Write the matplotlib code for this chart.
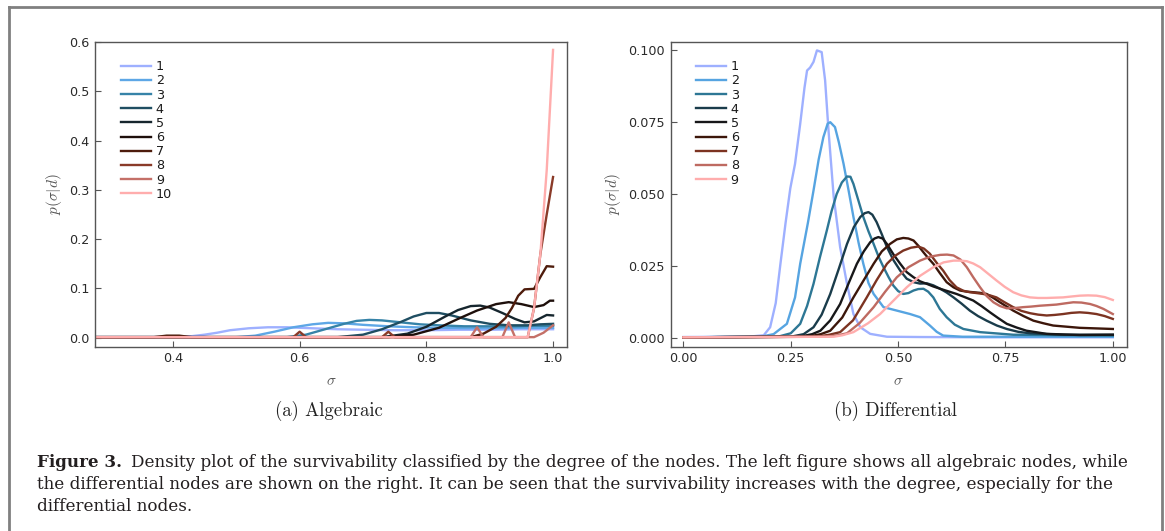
import matplotlib
matplotlib.use("Agg")
import matplotlib.pyplot as plt
from matplotlib.colors import LinearSegmentedColormap
from matplotlib.lines import Line2D

plt.rcParams['mathtext.fontset'] = 'cm'

# ---------------- data: (a) Algebraic ----------------
alg_s1 = [0.28, 0.40, 0.43, 0.45, 0.47, 0.49, 0.52, 0.55, 0.58, 0.62, 0.66, 0.70, 0.75, 0.80, 0.85, 0.90, 0.95, 1.0]
alg_p1 = [0.001, 0.001, 0.003, 0.006, 0.010, 0.015, 0.019, 0.021, 0.021, 0.019, 0.017, 0.016, 0.015, 0.015, 0.016, 0.016, 0.017, 0.017]
alg_s2 = [0.28, 0.50, 0.53, 0.56, 0.59, 0.62, 0.645, 0.67, 0.70, 0.74, 0.78, 0.82, 0.86, 0.90, 0.95, 1.0]
alg_p2 = [0.001, 0.001, 0.004, 0.012, 0.021, 0.027, 0.030, 0.029, 0.026, 0.023, 0.021, 0.020, 0.019, 0.019, 0.020, 0.020]
alg_s3 = [0.28, 0.58, 0.61, 0.64, 0.67, 0.69, 0.71, 0.73, 0.76, 0.79, 0.82, 0.86, 0.90, 0.94, 0.97, 1.0]
alg_p3 = [0.001, 0.001, 0.006, 0.017, 0.028, 0.034, 0.036, 0.035, 0.031, 0.027, 0.025, 0.023, 0.023, 0.023, 0.024, 0.024]
alg_s4 = [0.28, 0.66, 0.70, 0.73, 0.76, 0.78, 0.80, 0.82, 0.84, 0.87, 0.90, 0.93, 0.96, 0.98, 1.0]
alg_p4 = [0.001, 0.001, 0.006, 0.017, 0.032, 0.043, 0.050, 0.050, 0.045, 0.035, 0.028, 0.025, 0.025, 0.027, 0.028]
alg_s5 = [0.28, 0.73, 0.77, 0.80, 0.83, 0.85, 0.87, 0.885, 0.90, 0.92, 0.94, 0.955, 0.97, 0.99, 1.0]
alg_p5 = [0.001, 0.001, 0.008, 0.022, 0.043, 0.056, 0.064, 0.065, 0.061, 0.050, 0.038, 0.031, 0.033, 0.046, 0.045]
alg_s6 = [0.28, 0.74, 0.78, 0.82, 0.85, 0.88, 0.91, 0.93, 0.95, 0.97, 0.985, 0.995, 1.0]
alg_p6 = [0.001, 0.001, 0.006, 0.020, 0.038, 0.055, 0.068, 0.072, 0.068, 0.062, 0.066, 0.075, 0.075]
alg_s7 = [0.28, 0.37, 0.39, 0.41, 0.43, 0.87, 0.89, 0.91, 0.925, 0.935, 0.945, 0.955, 0.97, 0.98, 0.99, 1.0]
alg_p7 = [0.001, 0.001, 0.004, 0.004, 0.001, 0.001, 0.008, 0.022, 0.040, 0.060, 0.085, 0.098, 0.099, 0.123, 0.145, 0.144]
alg_s8 = [0.28, 0.59, 0.60, 0.61, 0.73, 0.74, 0.75, 0.96, 0.97, 0.98, 0.99, 1.0]
alg_p8 = [0.001, 0.001, 0.012, 0.001, 0.001, 0.012, 0.001, 0.001, 0.060, 0.170, 0.250, 0.326]
alg_s9 = [0.28, 0.87, 0.88, 0.89, 0.92, 0.93, 0.94, 0.97, 0.985, 1.0]
alg_p9 = [0.001, 0.001, 0.021, 0.001, 0.001, 0.031, 0.001, 0.001, 0.010, 0.025]
alg_s10 = [0.28, 0.96, 0.97, 0.98, 0.99, 1.0]
alg_p10 = [0.001, 0.001, 0.060, 0.170, 0.340, 0.584]

# ---------------- data: (b) Differential ----------------
dif_s1 = [0.0, 0.15, 0.187, 0.202, 0.215, 0.226, 0.238, 0.249, 0.260, 0.272, 0.282, 0.288, 0.295, 0.303, 0.311, 0.322, 0.330, 0.338, 0.350, 0.365, 0.381, 0.396, 0.412, 0.435, 0.474, 0.55, 0.70, 1.0]
dif_p1 = [0.0002, 0.0003, 0.0008, 0.0036, 0.012, 0.0257, 0.040, 0.052, 0.0605, 0.0744, 0.087, 0.093, 0.094, 0.096, 0.100, 0.0994, 0.0896, 0.072, 0.049, 0.0315, 0.0187, 0.0082, 0.0036, 0.0013, 0.0003, 0.0002, 0.0001, 0.0001]
dif_s2 = [0.0, 0.18, 0.21, 0.241, 0.26, 0.272, 0.29, 0.303, 0.315, 0.326, 0.336, 0.342, 0.353, 0.362, 0.373, 0.385, 0.396, 0.408, 0.419, 0.431, 0.443, 0.466, 0.497, 0.528, 0.551, 0.574, 0.59, 0.605, 0.65, 1.0]
dif_p2 = [0.0001, 0.0003, 0.0012, 0.0048, 0.014, 0.0257, 0.040, 0.0512, 0.062, 0.0698, 0.0745, 0.075, 0.0733, 0.068, 0.0605, 0.051, 0.042, 0.033, 0.0257, 0.019, 0.0152, 0.0106, 0.0094, 0.0082, 0.0071, 0.0042, 0.002, 0.0007, 0.0003, 0.0003]
dif_s3 = [0.0, 0.22, 0.25, 0.272, 0.288, 0.303, 0.318, 0.334, 0.345, 0.357, 0.369, 0.381, 0.389, 0.396, 0.407, 0.419, 0.431, 0.443, 0.455, 0.466, 0.478, 0.489, 0.500, 0.512, 0.524, 0.536, 0.547, 0.559, 0.570, 0.582, 0.597, 0.613, 0.632, 0.652, 0.691, 0.768, 1.0]
dif_p3 = [0.0001, 0.0003, 0.0015, 0.0048, 0.011, 0.0187, 0.028, 0.0373, 0.044, 0.050, 0.054, 0.0561, 0.0560, 0.0535, 0.048, 0.042, 0.037, 0.0326, 0.028, 0.0245, 0.021, 0.0181, 0.0162, 0.0152, 0.0155, 0.0164, 0.0169, 0.017, 0.0160, 0.014, 0.010, 0.0071, 0.0045, 0.003, 0.0019, 0.001, 0.0007]
dif_s4 = [0.0, 0.25, 0.28, 0.303, 0.322, 0.342, 0.362, 0.381, 0.397, 0.412, 0.422, 0.431, 0.440, 0.450, 0.462, 0.474, 0.489, 0.505, 0.520, 0.536, 0.551, 0.567, 0.582, 0.598, 0.613, 0.629, 0.648, 0.667, 0.686, 0.706, 0.730, 0.753, 0.780, 0.807, 0.884, 1.0]
dif_p4 = [0.0001, 0.0003, 0.0012, 0.0036, 0.008, 0.0152, 0.024, 0.0326, 0.0385, 0.042, 0.0433, 0.0437, 0.0428, 0.0402, 0.036, 0.0315, 0.027, 0.0233, 0.0205, 0.0193, 0.0188, 0.0189, 0.0182, 0.017, 0.0157, 0.014, 0.0118, 0.0094, 0.0075, 0.0059, 0.0042, 0.003, 0.002, 0.0015, 0.001, 0.001]
dif_s5 = [0.0, 0.27, 0.30, 0.319, 0.342, 0.365, 0.385, 0.404, 0.42, 0.435, 0.445, 0.454, 0.464, 0.474, 0.489, 0.505, 0.520, 0.536, 0.551, 0.567, 0.582, 0.598, 0.617, 0.636, 0.655, 0.675, 0.694, 0.714, 0.733, 0.753, 0.776, 0.799, 0.846, 0.923, 1.0]
dif_p5 = [0.0001, 0.0003, 0.0012, 0.0024, 0.006, 0.0117, 0.019, 0.0257, 0.030, 0.0332, 0.0345, 0.035, 0.0345, 0.0326, 0.029, 0.0257, 0.0228, 0.021, 0.0196, 0.0187, 0.0178, 0.017, 0.0161, 0.0152, 0.0141, 0.0129, 0.011, 0.0088, 0.0068, 0.0048, 0.0035, 0.0024, 0.0013, 0.0009, 0.001]
dif_s6 = [0.0, 0.29, 0.32, 0.342, 0.37, 0.396, 0.42, 0.443, 0.462, 0.481, 0.497, 0.512, 0.524, 0.536, 0.547, 0.559, 0.570, 0.582, 0.597, 0.613, 0.629, 0.644, 0.660, 0.675, 0.690, 0.706, 0.722, 0.737, 0.753, 0.768, 0.792, 0.815, 0.838, 0.861, 0.923, 1.0]
dif_p6 = [0.0001, 0.0003, 0.0012, 0.0024, 0.007, 0.014, 0.020, 0.0257, 0.030, 0.0326, 0.0342, 0.0347, 0.0345, 0.0338, 0.032, 0.0297, 0.0277, 0.0257, 0.0225, 0.0193, 0.0175, 0.0164, 0.016, 0.0158, 0.0156, 0.0152, 0.0138, 0.0123, 0.0108, 0.0094, 0.0075, 0.0059, 0.005, 0.0042, 0.0034, 0.003]
dif_s7 = [0.0, 0.31, 0.34, 0.365, 0.395, 0.427, 0.45, 0.474, 0.493, 0.512, 0.530, 0.547, 0.560, 0.574, 0.59, 0.605, 0.62, 0.636, 0.652, 0.667, 0.683, 0.698, 0.714, 0.729, 0.748, 0.768, 0.787, 0.807, 0.826, 0.846, 0.865, 0.884, 0.903, 0.923, 0.942, 0.962, 0.981, 1.0]
dif_p7 = [0.0001, 0.0003, 0.001, 0.0019, 0.006, 0.014, 0.020, 0.0257, 0.0285, 0.0303, 0.0313, 0.0317, 0.031, 0.0292, 0.026, 0.0233, 0.020, 0.0175, 0.0163, 0.0158, 0.0155, 0.0152, 0.0147, 0.014, 0.0123, 0.0106, 0.0093, 0.0085, 0.008, 0.0077, 0.0079, 0.0082, 0.0086, 0.0088, 0.0086, 0.0082, 0.0075, 0.0065]
dif_s8 = [0.0, 0.33, 0.36, 0.381, 0.41, 0.443, 0.47, 0.497, 0.524, 0.551, 0.575, 0.598, 0.614, 0.629, 0.645, 0.660, 0.675, 0.691, 0.706, 0.722, 0.737, 0.753, 0.772, 0.791, 0.810, 0.830, 0.85, 0.869, 0.888, 0.908, 0.927, 0.947, 0.962, 0.978, 1.0]
dif_p8 = [0.0001, 0.0003, 0.0008, 0.0015, 0.005, 0.0106, 0.016, 0.021, 0.0245, 0.0268, 0.0282, 0.0288, 0.0289, 0.0286, 0.0272, 0.0245, 0.021, 0.0175, 0.0145, 0.0123, 0.011, 0.0102, 0.0103, 0.0106, 0.0108, 0.0111, 0.0113, 0.0115, 0.0119, 0.0123, 0.0122, 0.0117, 0.011, 0.010, 0.0082]
dif_s9 = [0.0, 0.35, 0.37, 0.396, 0.43, 0.458, 0.49, 0.520, 0.551, 0.582, 0.606, 0.629, 0.645, 0.660, 0.675, 0.691, 0.710, 0.729, 0.748, 0.768, 0.787, 0.807, 0.826, 0.846, 0.865, 0.884, 0.903, 0.923, 0.942, 0.962, 0.981, 1.0]
dif_p9 = [0.0001, 0.0003, 0.0008, 0.0019, 0.005, 0.0082, 0.013, 0.0175, 0.0215, 0.0245, 0.0262, 0.0268, 0.0268, 0.0266, 0.0258, 0.0245, 0.0222, 0.0199, 0.0177, 0.0158, 0.0147, 0.014, 0.0138, 0.0138, 0.0139, 0.014, 0.0143, 0.0146, 0.0147, 0.0146, 0.0141, 0.0131]

alg_labels = ['1', '2', '3', '4', '5', '6', '7', '8', '9', '10']
dif_labels = ['1', '2', '3', '4', '5', '6', '7', '8', '9']
alg_sigma = [alg_s1, alg_s2, alg_s3, alg_s4, alg_s5, alg_s6, alg_s7, alg_s8, alg_s9, alg_s10]
alg_dens = [alg_p1, alg_p2, alg_p3, alg_p4, alg_p5, alg_p6, alg_p7, alg_p8, alg_p9, alg_p10]
dif_sigma = [dif_s1, dif_s2, dif_s3, dif_s4, dif_s5, dif_s6, dif_s7, dif_s8, dif_s9]
dif_dens = [dif_p1, dif_p2, dif_p3, dif_p4, dif_p5, dif_p6, dif_p7, dif_p8, dif_p9]

alg_xticks = [0.4, 0.6, 0.8, 1.0]
alg_yticks = [0.0, 0.1, 0.2, 0.3, 0.4, 0.5, 0.6]
dif_xticks = [0.0, 0.25, 0.5, 0.75, 1.0]
dif_yticks = [0.0, 0.025, 0.05, 0.075, 0.1]

caption_bold = "Figure 3."
caption_lines = [
    "Density plot of the survivability classified by the degree of the nodes. The left figure shows all algebraic nodes, while",
    "the differential nodes are shown on the right. It can be seen that the survivability increases with the degree, especially for the",
    "differential nodes.",
]

# berlin-like colormap
berlin = LinearSegmentedColormap.from_list("berlin_like", [
    (0.00, "#9eb0ff"), (0.12, "#58a6e4"), (0.24, "#2f7c9c"), (0.36, "#1b4152"),
    (0.48, "#141a1e"), (0.56, "#1e0f0a"), (0.66, "#4a1a0a"), (0.78, "#8a3a28"),
    (0.89, "#c47068"), (1.00, "#ffadad")])

W, H = 1165, 531
fig = plt.figure(figsize=(W / 100, H / 100), dpi=100)

def px_rect(x0, y0, x1, y1):
    return [x0 / W, 1 - y1 / H, (x1 - x0) / W, (y1 - y0) / H]

ax1 = fig.add_axes(px_rect(95, 41.5, 567, 346.5))
ax2 = fig.add_axes(px_rect(670.5, 41.5, 1127, 346.5))

def style(ax):
    for sp in ax.spines.values():
        sp.set_color('#555555')
        sp.set_linewidth(1.0)
    ax.tick_params(direction='in', length=4, width=0.8, color='#555555',
                   labelsize=9.2, labelcolor='#2a2a2a', pad=4)

n1 = len(alg_sigma)
for i, (s, p) in enumerate(zip(alg_sigma, alg_dens)):
    ax1.plot(s, p, color=berlin(i / (n1 - 1)), lw=1.7, label=alg_labels[i])
ax1.set_xlim(0.277, 1.022)
ax1.set_ylim(-0.018, 0.601)
ax1.set_xticks(alg_xticks)
ax1.set_xticklabels(['0.4', '0.6', '0.8', '1.0'])
ax1.set_yticks(alg_yticks)
ax1.set_yticklabels(['0.0', '0.1', '0.2', '0.3', '0.4', '0.5', '0.6'])
style(ax1)

n2 = len(dif_sigma)
for i, (s, p) in enumerate(zip(dif_sigma, dif_dens)):
    ax2.plot(s, p, color=berlin(i / (n2 - 1)), lw=1.7, label=dif_labels[i])
ax2.set_xlim(-0.03, 1.033)
ax2.set_ylim(-0.0031, 0.1031)
ax2.set_xticks(dif_xticks)
ax2.set_xticklabels(['0.00', '0.25', '0.50', '0.75', '1.00'])
ax2.set_yticks(dif_yticks)
ax2.set_yticklabels(['0.000', '0.025', '0.050', '0.075', '0.100'])
style(ax2)

for ax in (ax1, ax2):
    leg = ax.legend(loc='upper left', frameon=False, fontsize=9.2,
                    handlelength=2.35, handletextpad=0.35, labelspacing=0.09,
                    borderaxespad=0.0, bbox_to_anchor=(0.045, 0.955))
    for t in leg.get_texts():
        t.set_color('#1a1a1a')
    ax.set_xlabel(r'$\sigma$', fontsize=11, color='#555555', labelpad=6)
    ax.set_ylabel(r'$p(\sigma|d)$', fontsize=11, color='#555555', labelpad=4)

# sub-captions
fig.text(329 / W, 1 - 411 / H, '(a) Algebraic', family='cmr10', fontsize=13.5,
         ha='center', va='center', color='#222222')
fig.text(896 / W, 1 - 411 / H, '(b) Differential', family='cmr10', fontsize=13.5,
         ha='center', va='center', color='#222222')

# caption (font size fitted so that the first line spans the reference width)
cap_family = 'DejaVu Serif'
fs0 = 12.0
x0, x_end, gap = 37, 1127, 9
r = fig.canvas.get_renderer()
tb = fig.text(x0 / W, 1 - 467 / H, caption_bold, family=cap_family, fontweight='bold',
              fontsize=fs0, color='#231f20', va='baseline')
t1 = fig.text(0, 0, caption_lines[0], family=cap_family, fontsize=fs0)
w_total = tb.get_window_extent(r).width + t1.get_window_extent(r).width
t1.remove()
fs = fs0 * (x_end - x0 - gap) / w_total
tb.set_fontsize(fs)
bb = tb.get_window_extent(r)
fig.text((bb.x1 + gap) / W, 1 - 467 / H, caption_lines[0], family=cap_family,
         fontsize=fs, color='#231f20', va='baseline')
fig.text(x0 / W, 1 - 489 / H, caption_lines[1], family=cap_family,
         fontsize=fs, color='#231f20', va='baseline')
fig.text(x0 / W, 1 - 511 / H, caption_lines[2], family=cap_family,
         fontsize=fs, color='#231f20', va='baseline')

# outer frame
frame_kw = dict(color='#808080', lw=2.0, transform=fig.transFigure)
fig.add_artist(Line2D([9 / W, 1162 / W], [1 - 7 / H, 1 - 7 / H], **frame_kw))
fig.add_artist(Line2D([9 / W, 9 / W], [1 - 7 / H, 0], **frame_kw))
fig.add_artist(Line2D([1162 / W, 1162 / W], [1 - 7 / H, 0], **frame_kw))

fig.savefig('out.png', dpi=100)
